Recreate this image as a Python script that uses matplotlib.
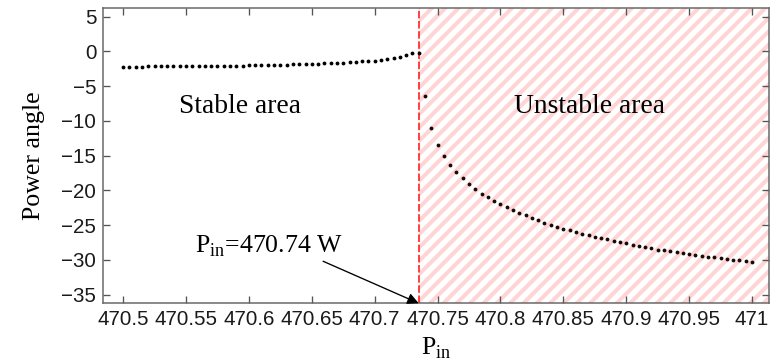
import numpy as np
import matplotlib.pyplot as plt

plt.rcParams['mathtext.fontset'] = 'custom'
plt.rcParams['mathtext.rm'] = 'Liberation Serif'
plt.rcParams['hatch.linewidth'] = 2.4

# input power grid (step 0.005)
p_stable = np.round(np.arange(470.5, 470.7351, 0.005), 3)
p_unstable = np.round(np.arange(470.74, 471.0001, 0.005), 3)

# power angle
ang_stable = [-2.20, -2.19, -2.19, -2.18, -2.17, -2.16, -2.16, -2.15, -2.14, -2.13,
              -2.12, -2.12, -2.11, -2.10, -2.09, -2.08, -2.07, -2.06, -2.05, -2.04,
              -2.03, -2.01, -2.00, -1.98, -1.96, -1.94, -1.91, -1.88, -1.84, -1.81,
              -1.78, -1.75, -1.72, -1.68, -1.64, -1.60, -1.55, -1.50, -1.45, -1.39,
              -1.32, -1.24, -1.14, -1.00, -0.80, -0.55, -0.20, -0.28]
ang_unstable = [-6.47, -11.0, -13.46, -15.09, -16.33, -17.39, -18.25, -19.1, -19.8, -20.45,
                -21.0, -21.5, -21.98, -22.4, -22.84, -23.2, -23.6, -23.99, -24.3, -24.66,
                -24.95, -25.24, -25.5, -25.76, -26.0, -26.25, -26.49, -26.72, -26.9, -27.06,
                -27.25, -27.44, -27.63, -27.83, -28.02, -28.2, -28.35, -28.54, -28.64, -28.78,
                -28.93, -29.07, -29.17, -29.3, -29.4, -29.55, -29.65, -29.74, -29.89, -29.98,
                -30.07, -30.13, -30.27]

p_crit = 470.735
x_ticks = [470.5, 470.55, 470.6, 470.65, 470.7, 470.75, 470.8, 470.85, 470.9, 470.95, 471]
x_ticklabels = ['470.5', '470.55', '470.6', '470.65', '470.7', '470.75', '470.8',
                '470.85', '470.9', '470.95', '471']
y_ticks = [5, 0, -5, -10, -15, -20, -25, -30, -35]
y_ticklabels = ['5', '0', '\u22125', '\u221210', '\u221215', '\u221220', '\u221225',
                '\u221230', '\u221235']

xmin, xmax = 470.484, 471.0135
ymin, ymax = -36.25, 6.2

fig = plt.figure(figsize=(771 / 120, 363 / 120), dpi=120)
ax = fig.add_axes([103 / 771, (363 - 303.3) / 363, 666 / 771, 295 / 363])

# unstable region hatch
ax.axvspan(p_crit, xmax, facecolor='none', edgecolor='#ffd4d4', hatch='///',
           linewidth=0, zorder=0)
ax.axvline(p_crit, color='#ff2020', lw=1.0, dashes=(4.5, 1.6), zorder=2)

ax.plot(p_stable, ang_stable, 'o', color='k', ms=2.3, mew=0, zorder=3)
ax.plot(p_unstable, ang_unstable, 'o', color='#1a0a0a', ms=2.3, mew=0, zorder=3)

ax.set_xlim(xmin, xmax)
ax.set_ylim(ymin, ymax)
ax.set_xticks(x_ticks)
ax.set_xticklabels(x_ticklabels)
ax.set_yticks(y_ticks)
ax.set_yticklabels(y_ticklabels)
ax.tick_params(direction='in', length=4, width=0.8, top=True, right=True,
               colors='#555555', labelcolor='#1a1a1a', labelsize=12.3, pad=4)
for lab in ax.get_xticklabels() + ax.get_yticklabels():
    lab.set_family('Liberation Sans')
for s in ax.spines.values():
    s.set_color('#666666')
    s.set_linewidth(0.9)

serif = 'Liberation Serif'
ax.set_xlabel('P$_{\\mathrm{in}}$', family=serif, fontsize=15.5, labelpad=4)
ax.set_ylabel('Power angle', family=serif, fontsize=15.5, labelpad=10)

ax.text(470.593, -8, 'Stable area', family=serif, fontsize=16.5,
        ha='center', va='center')
ax.text(470.871, -8, 'Unstable area', family=serif, fontsize=16.5,
        ha='center', va='center')
ax.text(470.557, -28.1, 'P$_{\\mathrm{in}}$=470.74 W', family=serif, fontsize=15.5,
        ha='left', va='center')
ax.annotate('', xy=(p_crit, ymin), xytext=(470.659, -30.2),
            arrowprops=dict(arrowstyle='-|>', color='k', lw=0.8,
                            mutation_scale=14, shrinkA=0, shrinkB=0))

fig.savefig('out.png', dpi=120)
